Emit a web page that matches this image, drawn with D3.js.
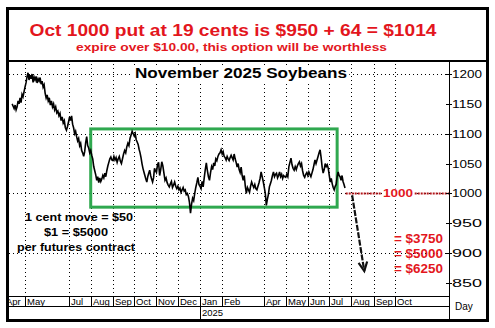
<!DOCTYPE html>
<html>
<head>
<meta charset="utf-8">
<script src="https://cdn.jsdelivr.net/npm/d3@7"></script>
<style>
  body { margin: 0; background: #fff; }
  svg { display: block; }
  text { font-family: "Liberation Sans", Arial, sans-serif; }
</style>
</head>
<body>
<svg id="chart" width="495" height="328"></svg>
<script>
// ---- data -------------------------------------------------------------
const chartTitle = "Oct 1000 put at 19 cents is $950 + 64 = $1014";
const chartSubtitle = "expire over $10.00, this option will be worthless";
const contractName = "November 2025 Soybeans";
const contractNotes = ["1 cent move = $50", "$1 = $5000", "per futures contract"];

const priceTicks = [850, 900, 950, 1000, 1050, 1100, 1150, 1200];
const gridPrices = [900, 1000, 1100, 1200];
const monthTicks = ["2024-04-01", "2024-05-01", "2024-07-01", "2024-08-01", "2024-09-01",
  "2024-10-01", "2024-11-01", "2024-12-01", "2025-01-01", "2025-02-01", "2025-04-01",
  "2025-05-01", "2025-06-01", "2025-07-01", "2025-08-01", "2025-09-01", "2025-10-01"];
const yearTicks = ["2025-01-01"];

// daily settlement path, cents per bushel, one array per calendar month
const firstSession = "2024-04-13";
const lastSession = "2025-07-23";
const monthKeys = ["2024-04", "2024-05", "2024-06", "2024-07", "2024-08", "2024-09", "2024-10",
  "2024-11", "2024-12", "2025-01", "2025-02", "2025-03", "2025-04", "2025-05", "2025-06", "2025-07"];
const closesApr24 = [1150, 1146, 1142, 1148, 1140, 1145, 1155, 1150, 1160, 1152, 1166, 1162, 1170];
const closesMay24 = [1178, 1185, 1195, 1202, 1190, 1198, 1192, 1200, 1186, 1195, 1190, 1196, 1185, 1192, 1188, 1194, 1183, 1188, 1178, 1182, 1168, 1160];
const closesJun24 = [1165, 1155, 1160, 1148, 1155, 1145, 1150, 1140, 1145, 1135, 1138, 1130, 1134, 1122, 1128, 1118, 1122, 1110, 1106, 1112];
const closesJul24 = [1120, 1128, 1122, 1130, 1116, 1110, 1100, 1104, 1095, 1088, 1092, 1080, 1084, 1072, 1068, 1062, 1070, 1085, 1095, 1080, 1076, 1068];
const closesAug24 = [1072, 1064, 1058, 1045, 1038, 1031, 1022, 1028, 1018, 1026, 1020, 1024, 1030, 1026, 1034, 1028, 1038, 1046, 1052, 1058, 1061, 1056];
const closesSep24 = [1055, 1062, 1056, 1060, 1052, 1058, 1062, 1054, 1050, 1058, 1066, 1072, 1068, 1078, 1084, 1080, 1092, 1098, 1104, 1100];
const closesOct24 = [1096, 1100, 1090, 1086, 1082, 1074, 1068, 1060, 1050, 1042, 1036, 1030, 1024, 1019, 1028, 1034, 1039, 1030, 1024, 1019, 1026, 1042, 1038];
const closesNov24 = [1035, 1048, 1052, 1030, 1040, 1053, 1046, 1034, 1022, 1026, 1018, 1014, 1011, 1016, 1020, 1010, 1014, 1019, 1012, 1008];
const closesDec24 = [1012, 1006, 1009, 1002, 1006, 1010, 1004, 1006, 998, 1000, 995, 985, 967, 982, 992, 988, 1000, 1010, 1018, 1027, 1015];
const closesJan25 = [1012, 1008, 1020, 1011, 1026, 1040, 1051, 1038, 1028, 1022, 1035, 1045, 1040, 1051, 1046, 1058, 1055, 1062, 1066, 1068, 1073];
const closesFeb25 = [1066, 1070, 1062, 1060, 1056, 1062, 1058, 1055, 1060, 1064, 1060, 1056, 1066, 1058, 1052, 1044, 1050, 1040, 1035, 1044];
const closesMar25 = [1030, 1022, 1030, 1012, 1000, 1010, 1006, 1002, 1012, 1019, 1014, 1010, 1015, 1008, 1006, 1012, 1018, 1025, 1036, 1028, 1020];
const closesApr25 = [1010, 1000, 980, 990, 998, 1011, 1016, 1022, 1030, 1036, 1028, 1032, 1034, 1026, 1030, 1036, 1028, 1032, 1025, 1030, 1028];
const closesMay25 = [1027, 1032, 1028, 1045, 1052, 1059, 1048, 1042, 1039, 1045, 1040, 1046, 1050, 1053, 1046, 1050, 1038, 1030, 1027, 1032, 1035];
const closesJun25 = [1030, 1036, 1032, 1028, 1034, 1040, 1048, 1056, 1050, 1056, 1062, 1068, 1073, 1060, 1044, 1034, 1040, 1050, 1045, 1048, 1042];
const closesJul25 = [1030, 1019, 1025, 1016, 1010, 1006, 1012, 1015, 1028, 1036, 1030, 1028, 1022, 1030, 1020, 1015, 1009];

// trading range box and put scenario
const rangeStart = "2024-08-01", rangeEnd = "2025-07-12";
const rangeLow = 977, rangeHigh = 1108;
const strikePrice = 1000;
const strikeFrom = "2025-07-24";
const projectionFrom = ["2025-08-02", 997];
const projectionTo = ["2025-08-19", 870];
const targetPrices = [925, 900, 875];
const dollarsPerCent = 50;

// ---- layout -----------------------------------------------------------
const parse = d3.timeParse("%Y-%m-%d");
const parseMonth = d3.timeParse("%Y-%m");
const frame = { left: 7.5, top: 8.5, right: 487.5, bottom: 320.5 };
const plot = { left: 9, right: 449, top: 62, bottom: 296 };
const monthRowBottom = 306.5;

const svg = d3.select("#chart");

const x = d3.scaleTime()
  .domain([parse("2024-05-01"), parse("2025-10-01")])
  .range([25, 395]);
const y = d3.scaleLinear()
  .domain([850, 1200])
  .range([283, 74]);

// assemble the series from the monthly arrays
const monthly = [closesApr24, closesMay24, closesJun24, closesJul24, closesAug24, closesSep24,
  closesOct24, closesNov24, closesDec24, closesJan25, closesFeb25, closesMar25, closesApr25,
  closesMay25, closesJun25, closesJul25];
const series = [];
monthly.forEach((vals, m) => {
  const mStart = parseMonth(monthKeys[m]);
  const start = m === 0 ? parse(firstSession) : mStart;
  const last = m === monthly.length - 1;
  const end = last ? parse(lastSession) : d3.timeMonth.offset(mStart, 1);
  const n = last ? vals.length - 1 : vals.length;
  vals.forEach((v, i) => {
    series.push({ date: new Date(+start + (end - start) * i / n), close: v });
  });
});

svg.append("defs").append("clipPath").attr("id", "plotClip")
  .append("rect")
  .attr("x", plot.left).attr("y", plot.top)
  .attr("width", plot.right - plot.left).attr("height", plot.bottom - plot.top);

const plotG = svg.append("g").attr("clip-path", "url(#plotClip)");

// dotted grid
plotG.append("g").selectAll("line").data(gridPrices).join("line")
  .attr("x1", plot.left).attr("x2", plot.right)
  .attr("y1", d => Math.round(y(d)) + 0.5).attr("y2", d => Math.round(y(d)) + 0.5)
  .attr("stroke", "#000").attr("stroke-width", 1).attr("stroke-dasharray", "1,3");
plotG.append("g").selectAll("line").data(monthTicks).join("line")
  .attr("x1", d => Math.round(x(parse(d))) + 0.5).attr("x2", d => Math.round(x(parse(d))) + 0.5)
  .attr("y1", plot.top + 2).attr("y2", plot.bottom)
  .attr("stroke", "#000").attr("stroke-width", 1).attr("stroke-dasharray", "1,3");

// contract title with white backing
const titleText = plotG.append("text")
  .attr("x", 135).attr("y", 78)
  .attr("font-size", 14).attr("font-weight", "bold")
  .attr("textLength", 212).attr("lengthAdjust", "spacingAndGlyphs")
  .text(contractName);
const tb = titleText.node().getBBox();
plotG.insert("rect", "text")
  .attr("x", tb.x - 2).attr("y", tb.y).attr("width", tb.width + 4).attr("height", tb.height)
  .attr("fill", "#fff");

// trading range box
plotG.append("rect")
  .attr("x", x(parse(rangeStart))).attr("y", y(rangeHigh))
  .attr("width", x(parse(rangeEnd)) - x(parse(rangeStart)))
  .attr("height", y(rangeLow) - y(rangeHigh))
  .attr("fill", "none").attr("stroke", "#2fa84f").attr("stroke-width", 3);

// price path
plotG.append("path")
  .datum(series)
  .attr("fill", "none").attr("stroke", "#000").attr("stroke-width", 1.6)
  .attr("stroke-linejoin", "miter")
  .attr("d", d3.line().x(d => x(d.date)).y(d => y(d.close)));

// strike line with label
const strikeY = y(strikePrice);
plotG.append("line")
  .attr("x1", x(parse(strikeFrom))).attr("x2", plot.right)
  .attr("y1", strikeY).attr("y2", strikeY)
  .attr("stroke", "#b3161b").attr("stroke-width", 2).attr("stroke-dasharray", "2,1");
const strikeLabel = plotG.append("text")
  .attr("x", 398).attr("y", strikeY + 4)
  .attr("text-anchor", "middle")
  .attr("font-size", 11).attr("font-weight", "bold").attr("fill", "#e3161d")
  .attr("textLength", 30).attr("lengthAdjust", "spacingAndGlyphs")
  .text(strikePrice);
const sb = strikeLabel.node().getBBox();
plotG.insert("rect", "text:last-of-type")
  .attr("x", sb.x - 1).attr("y", sb.y + 1).attr("width", sb.width + 2).attr("height", sb.height - 2)
  .attr("fill", "#fff");
strikeLabel.raise();

// projected move arrow
const ax1 = x(parse(projectionFrom[0])), ay1 = y(projectionFrom[1]);
const ax2 = x(parse(projectionTo[0])), ay2 = y(projectionTo[1]);
plotG.append("line")
  .attr("x1", ax1).attr("y1", ay1).attr("x2", ax2).attr("y2", ay2)
  .attr("stroke", "#111").attr("stroke-width", 2.2).attr("stroke-dasharray", "6,1.5");
const ang = Math.atan2(ay2 - ay1, ax2 - ax1);
const headLen = 10, headSpread = 0.45;
plotG.append("path")
  .attr("d", `M${ax2 - headLen * Math.cos(ang - headSpread)},${ay2 - headLen * Math.sin(ang - headSpread)}
              L${ax2},${ay2}
              L${ax2 - headLen * Math.cos(ang + headSpread)},${ay2 - headLen * Math.sin(ang + headSpread)}`)
  .attr("fill", "none").attr("stroke", "#111").attr("stroke-width", 2.2);

// put value at each target price
plotG.append("g").selectAll("text").data(targetPrices).join("text")
  .attr("x", 443).attr("y", d => y(d) + 4.5)
  .attr("text-anchor", "end")
  .attr("font-size", 12).attr("font-weight", "bold").attr("fill", "#e3161d")
  .attr("textLength", 49).attr("lengthAdjust", "spacingAndGlyphs")
  .text(d => "= $" + (strikePrice - d) * dollarsPerCent);

// contract notes
const noteLengths = [108, 64, 118];
const noteCenters = [79, 76, 76];
const noteBase = [220.5, 235.5, 250.5];
plotG.append("g").selectAll("text").data(contractNotes).join("text")
  .attr("x", (d, i) => noteCenters[i]).attr("y", (d, i) => noteBase[i])
  .attr("text-anchor", "middle")
  .attr("font-size", 11).attr("font-weight", "bold")
  .attr("textLength", (d, i) => noteLengths[i]).attr("lengthAdjust", "spacingAndGlyphs")
  .text(d => d);

// right price axis
svg.append("line")
  .attr("x1", plot.right + 0.5).attr("x2", plot.right + 0.5)
  .attr("y1", 61).attr("y2", frame.bottom)
  .attr("stroke", "#000");
const yAxis = svg.append("g");
yAxis.selectAll("line").data(priceTicks).join("line")
  .attr("x1", plot.right - 3).attr("x2", plot.right + 3)
  .attr("y1", d => Math.round(y(d)) + 0.5).attr("y2", d => Math.round(y(d)) + 0.5)
  .attr("stroke", "#000");
yAxis.selectAll("text").data(priceTicks).join("text")
  .attr("x", 452).attr("y", d => y(d) + 4)
  .attr("font-size", 11).attr("fill", "#000")
  .attr("textLength", 30).attr("lengthAdjust", "spacingAndGlyphs")
  .text(d => d);
svg.append("text")
  .attr("x", 455).attr("y", 310)
  .attr("font-size", 10).text("Day");

// time axis rows
svg.append("line")
  .attr("x1", frame.left).attr("x2", plot.right)
  .attr("y1", plot.bottom + 0.5).attr("y2", plot.bottom + 0.5)
  .attr("stroke", "#000");
svg.append("line")
  .attr("x1", frame.left).attr("x2", plot.right)
  .attr("y1", monthRowBottom).attr("y2", monthRowBottom)
  .attr("stroke", "#000");

svg.append("defs").append("clipPath").attr("id", "axisClip")
  .append("rect").attr("x", plot.left).attr("y", plot.bottom)
  .attr("width", plot.right - plot.left).attr("height", frame.bottom - plot.bottom);
const xAxis = svg.append("g").attr("clip-path", "url(#axisClip)");
const monthFmt = d3.timeFormat("%b");
xAxis.selectAll("line.m").data(monthTicks).join("line").attr("class", "m")
  .attr("x1", d => Math.round(x(parse(d))) + 0.5).attr("x2", d => Math.round(x(parse(d))) + 0.5)
  .attr("y1", plot.bottom).attr("y2", monthRowBottom)
  .attr("stroke", "#000");
xAxis.selectAll("text.m").data(monthTicks).join("text").attr("class", "m")
  .attr("x", d => Math.round(x(parse(d))) + 2).attr("y", 304.5)
  .attr("font-size", 9.5).attr("fill", "#000")
  .text(d => monthFmt(parse(d)));
xAxis.selectAll("line.yr").data(yearTicks).join("line").attr("class", "yr")
  .attr("x1", d => Math.round(x(parse(d))) + 0.5).attr("x2", d => Math.round(x(parse(d))) + 0.5)
  .attr("y1", monthRowBottom).attr("y2", frame.bottom)
  .attr("stroke", "#000");
xAxis.selectAll("text.yr").data(yearTicks).join("text").attr("class", "yr")
  .attr("x", d => Math.round(x(parse(d))) + 2).attr("y", 316)
  .attr("font-size", 9.5).attr("fill", "#000")
  .text(d => d3.timeFormat("%Y")(parse(d)));

// heading panel
svg.append("line")
  .attr("x1", frame.left).attr("x2", frame.right)
  .attr("y1", 61).attr("y2", 61)
  .attr("stroke", "#000").attr("stroke-width", 2);
svg.append("text")
  .attr("x", 233).attr("y", 35.5)
  .attr("text-anchor", "middle")
  .attr("font-size", 17).attr("font-weight", "bold").attr("fill", "#e3161d")
  .attr("textLength", 407).attr("lengthAdjust", "spacingAndGlyphs")
  .text(chartTitle);
svg.append("text")
  .attr("x", 231.5).attr("y", 50.5)
  .attr("text-anchor", "middle")
  .attr("font-size", 10.5).attr("font-weight", "bold").attr("fill", "#e3161d")
  .attr("textLength", 311).attr("lengthAdjust", "spacingAndGlyphs")
  .text(chartSubtitle);

// outer frame
svg.append("rect")
  .attr("x", frame.left).attr("y", frame.top)
  .attr("width", frame.right - frame.left).attr("height", frame.bottom - frame.top)
  .attr("fill", "none").attr("stroke", "#000").attr("stroke-width", 3);
</script>
</body>
</html>
